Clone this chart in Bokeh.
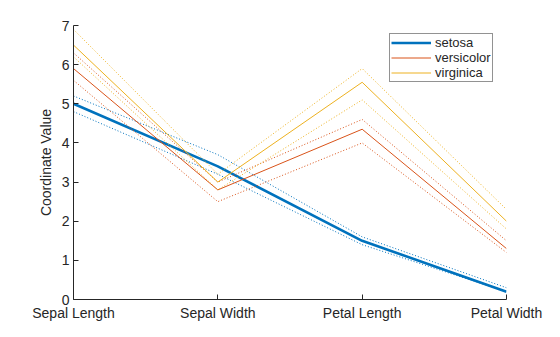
from bokeh.plotting import figure
from bokeh.models import Legend, LegendItem, FixedTicker
from bokeh.embed import file_html
from bokeh.resources import INLINE

features = ["Sepal Length", "Sepal Width", "Petal Length", "Petal Width"]
species = ["setosa", "versicolor", "virginica"]
colors = ["#0072BD", "#D95319", "#EDB120"]

setosa_median = [5.0, 3.4, 1.5, 0.2]
setosa_q1 = [4.8, 3.2, 1.4, 0.2]
setosa_q3 = [5.2, 3.7, 1.6, 0.3]

versicolor_median = [5.9, 2.8, 4.35, 1.3]
versicolor_q1 = [5.6, 2.5, 4.0, 1.2]
versicolor_q3 = [6.3, 3.0, 4.6, 1.5]

virginica_median = [6.5, 3.0, 5.55, 2.0]
virginica_q1 = [6.2, 2.8, 5.1, 1.8]
virginica_q3 = [6.9, 3.2, 5.9, 2.3]

medians = [setosa_median, versicolor_median, virginica_median]
q1s = [setosa_q1, versicolor_q1, virginica_q1]
q3s = [setosa_q3, versicolor_q3, virginica_q3]
widths = [2.6, 1, 1]

xs = list(range(1, len(features) + 1))

p = figure(width=560, height=337, x_range=(1, 4), y_range=(0, 7),
           output_backend="svg", toolbar_location=None,
           min_border_left=73, min_border_right=54, min_border_top=25,
           min_border_bottom=38)
p.outline_line_color = None
p.xgrid.visible = False
p.ygrid.visible = False
p.background_fill_color = "white"
p.border_fill_color = "white"

items = []
for i, sp in enumerate(species):
    r = p.line(xs, medians[i], line_color=colors[i], line_width=widths[i])
    p.line(xs, q1s[i], line_color=colors[i], line_width=1, line_dash="1 2")
    p.line(xs, q3s[i], line_color=colors[i], line_width=1, line_dash="1 2")
    items.append(LegendItem(label=sp, renderers=[r]))

ax_col = "#262626"
for ax in (p.xaxis[0], p.yaxis[0]):
    ax.axis_line_color = ax_col
    ax.major_tick_line_color = ax_col
    ax.major_tick_in = 5
    ax.major_tick_out = 0
    ax.minor_tick_line_color = None
    ax.major_label_text_color = ax_col
    ax.major_label_text_font = "Liberation Sans"
    ax.major_label_text_font_size = "14px"

p.xaxis.major_label_standoff = 5
p.yaxis.major_label_standoff = 4
p.xaxis.ticker = FixedTicker(ticks=xs)
p.xaxis.major_label_overrides = {x: f for x, f in zip(xs, features)}
p.yaxis.ticker = FixedTicker(ticks=list(range(0, 8)))
p.yaxis.axis_label = "Coordinate Value"
p.yaxis.axis_label_text_font = "Liberation Sans"
p.yaxis.axis_label_text_font_style = "normal"
p.yaxis.axis_label_text_font_size = "14px"
p.yaxis.axis_label_text_color = ax_col
p.yaxis.axis_label_standoff = 5

legend = Legend(items=items, location=(316, 217))
legend.border_line_color = ax_col
legend.border_line_width = 1
legend.label_text_font = "Liberation Sans"
legend.label_text_font_size = "13px"
legend.label_text_color = ax_col
legend.label_height = 13
legend.glyph_height = 13
legend.glyph_width = 40
legend.label_standoff = 4
legend.spacing = 0
legend.padding = 1
legend.margin = 0
legend.background_fill_alpha = 1
p.add_layout(legend, "center")

open("out.html", "w").write(file_html(p, INLINE))
